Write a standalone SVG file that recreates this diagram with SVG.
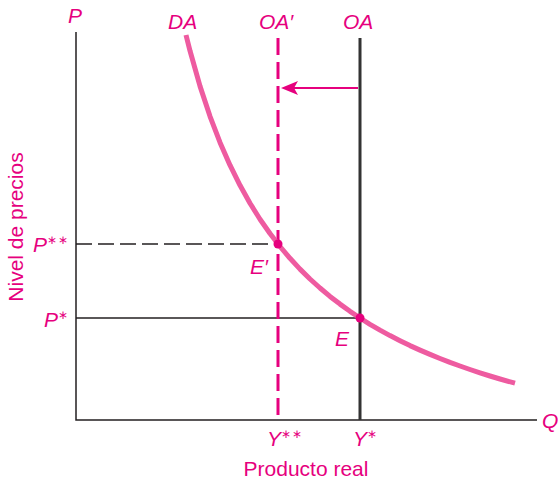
<svg xmlns="http://www.w3.org/2000/svg" width="558" height="483" viewBox="0 0 558 483">
<style>
text{font-family:"Liberation Sans",Arial,sans-serif;fill:#E6007E}
.it{font-style:italic;font-size:21px}
.sup{font-size:12px;font-style:normal;letter-spacing:1px}
.ax{stroke:#231F20;stroke-width:1.5;fill:none}
</style>
<rect width="558" height="483" fill="#fff"/>
<g id="connectors">
<path class="ax" d="M76,32 V420 H537"/>
<path d="M76,244 H278" stroke="#231F20" stroke-width="1.3" stroke-dasharray="16,6"/>
<path d="M76,318 H360" stroke="#231F20" stroke-width="1.3"/>
<path d="M360,38 V420" stroke="#333" stroke-width="3"/>
<path d="M278,38 V420" stroke="#E6007E" stroke-width="3" stroke-dasharray="17,7"/>
<path d="M358,88 H290" stroke="#E6007E" stroke-width="2"/>
<path d="M281,88 L298,81 L294,88 L298,95 Z" fill="#E6007E"/>
<polyline fill="none" stroke="#EE5BA0" stroke-width="5" stroke-linejoin="round" points="186,35 190,50.8 200,86.1 210,116.3 220,142.4 230,165.2 240,185.3 250,203.2 260,219.2 270,233.5 280,246.5 290,258.3 300,269.1 310,279 320,288 330,296.4 340,304.1 350,311.3 360,318 370,324.3 380,330.1 390,335.6 400,340.7 410,345.6 420,350.1 430,354.4 440,358.5 450,362.4 460,366 470,369.5 480,372.8 490,376 500,379 515,383.2"/>
</g>
<g id="E2"><circle cx="278" cy="244" r="4.5" fill="#E6007E"/><text class="it" x="250" y="274">E′</text></g>
<g id="E"><circle cx="360" cy="318" r="4.5" fill="#E6007E"/><text class="it" x="335" y="346">E</text></g>
<g id="labels">
<text class="it" x="68" y="23">P</text>
<text class="it" x="168" y="29">DA</text>
<text class="it" x="259" y="29">OA′</text>
<text class="it" x="343" y="29">OA</text>
<text class="it" x="542" y="428">Q</text>
<text class="it" x="33" y="252">P<tspan class="sup" dy="-8">∗∗</tspan></text>
<text class="it" x="44" y="327">P<tspan class="sup" dy="-8">∗</tspan></text>
<text class="it" x="267" y="446">Y<tspan class="sup" dy="-8">∗∗</tspan></text>
<text class="it" x="353" y="446">Y<tspan class="sup" dy="-8">∗</tspan></text>
<text x="306" y="476" font-size="21" text-anchor="middle">Producto real</text>
<text x="0" y="0" font-size="21" text-anchor="middle" transform="translate(23,227) rotate(-90)">Nivel de precios</text>
</g>
</svg>
